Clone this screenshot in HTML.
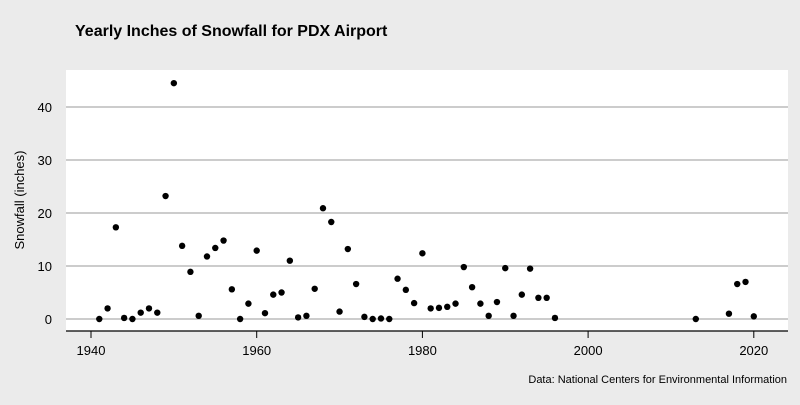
<!DOCTYPE html>
<html><head><meta charset="utf-8"><style>
body{margin:0;background:#ebebeb;font-family:"Liberation Sans",sans-serif}
</style></head><body>
<svg width="800" height="400" xmlns="http://www.w3.org/2000/svg">
<rect width="800" height="400" fill="#ebebeb"/>
<text x="75" y="36" font-size="16" font-weight="bold" fill="#000">Yearly Inches of Snowfall for PDX Airport</text>
<rect x="66" y="70" width="722" height="261" fill="#fff"/>
<g id="grid"></g>
<line x1="66" y1="331" x2="788" y2="331" stroke="#000" stroke-width="1.2"/>
<g id="xt"></g><g id="yt"></g><g id="pts"></g>
<text transform="translate(24,200) rotate(-90)" text-anchor="middle" font-size="13" fill="#000">Snowfall (inches)</text>
<text x="787" y="383" text-anchor="end" font-size="11" fill="#000">Data: National Centers for Environmental Information</text>
</svg>
<script>
const years=[1941,1942,1943,1944,1945,1946,1947,1948,1949,1950,1951,1952,1953,1954,1955,1956,1957,1958,1959,1960,1961,1962,1963,1964,1965,1966,1967,1968,1969,1970,1971,1972,1973,1974,1975,1976,1977,1978,1979,1980,1981,1982,1983,1984,1985,1986,1987,1988,1989,1990,1991,1992,1993,1994,1995,1996,2013,2017,2018,2019,2020];
const snowfall=[0,2,17.3,0.2,0,1.2,2,1.2,23.2,44.5,13.8,8.9,0.6,11.8,13.4,14.8,5.6,0,2.9,12.9,1.1,4.6,5,11,0.3,0.6,5.7,20.9,18.3,1.4,13.2,6.6,0.4,0,0.1,0,7.6,5.5,3,12.4,2,2.1,2.3,2.9,9.8,6,2.9,0.6,3.2,9.6,0.6,4.6,9.5,4,4,0.2,0,1,6.6,7,0.5];
const xTicks=[1940,1960,1980,2000,2020];
const yTicks=[0,10,20,30,40];
const NS="http://www.w3.org/2000/svg";
const xs=v=>91+(v-1940)*8.285;
const ys=v=>319-v*(319-107)/40;
function mk(t,a,p){const e=document.createElementNS(NS,t);for(const k in a)e.setAttribute(k,a[k]);document.getElementById(p).appendChild(e);return e;}
yTicks.forEach(v=>{
 const l=mk('line',{x1:66,x2:788,y1:ys(v),y2:ys(v),stroke:'#cccccc','stroke-width':2},'grid');
 
 
 const t=mk('text',{x:52,y:ys(v)+5,'text-anchor':'end','font-size':13,fill:'#000'},'yt');
 t.textContent=v;
 
 
});
xTicks.forEach(v=>{
 const l=mk('line',{x1:xs(v),x2:xs(v),y1:331,y2:338,stroke:'#000','stroke-width':1},'xt');
 
 
 const t=mk('text',{x:xs(v),y:355,'text-anchor':'middle','font-size':13,fill:'#000'},'xt');
 t.textContent=v;
 
 
});
years.forEach((y,i)=>{
 const c=mk('circle',{cx:xs(y),cy:ys(snowfall[i]),r:3.2,fill:'#000'},'pts');
 
 
});
</script>
</body></html>
